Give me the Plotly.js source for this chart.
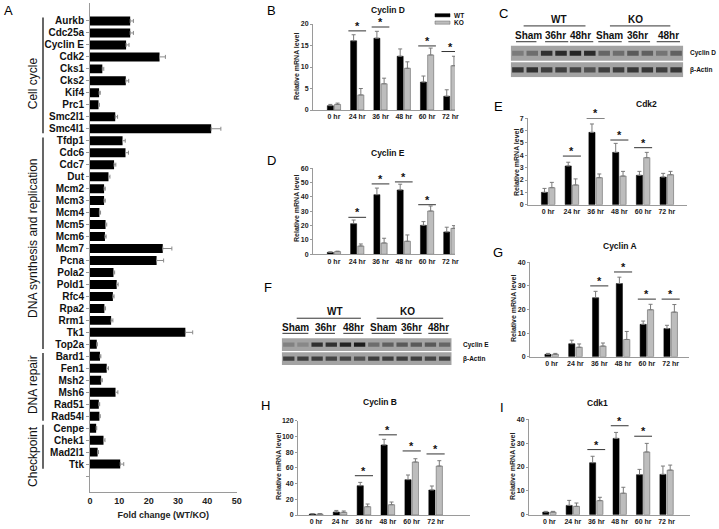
<!DOCTYPE html>
<html><head><meta charset="utf-8">
<script src="https://cdn.plot.ly/plotly-3.0.1.min.js"></script>
<style>html,body{margin:0;padding:0;background:#fff}#g{width:719px;height:529px}</style>
</head><body><div id="g"></div>
<script>
// ---------- Panel A data ----------
const genes = ['Aurkb','Cdc25a','Cyclin E','Cdk2','Cks1','Cks2','Kif4','Prc1','Smc2l1','Smc4l1',
  'Tfdp1','Cdc6','Cdc7','Dut','Mcm2','Mcm3','Mcm4','Mcm5','Mcm6','Mcm7','Pcna','Pola2','Pold1','Rfc4','Rpa2','Rrm1','Tk1','Top2a',
  'Bard1','Fen1','Msh2','Msh6','Rad51','Rad54l','Cenpe','Chek1','Mad2l1','Ttk'];
const foldChange = [13.7,13.7,12.3,23.7,4.2,12.2,3.1,2.9,8.6,41.3,
  11.1,12.1,8.2,6.3,4.8,4.8,3.2,5.3,5.1,24.8,22.7,8.0,9.1,7.8,4.9,7.2,32.5,2.3,
  3.4,5.7,3.8,8.7,3.0,3.2,2.1,4.6,2.6,10.3];
const foldErr = [1.1,1.1,1.0,2.0,0.5,1.0,0.4,0.3,0.8,3.3,
  0.9,1.0,0.6,0.5,0.4,0.4,0.4,0.4,0.4,3.1,2.4,0.4,0.5,0.4,0.4,0.6,2.5,0.2,
  0.3,0.6,0.4,0.8,0.3,0.3,0.2,0.5,0.3,1.2];
const groupNames = ['Cell cycle','DNA synthesis and replication','DNA repair','Checkpoint'];
const groupFirst = [0,10,28,34];
const groupLast = [9,27,33,37];

// ---------- qPCR panels ----------
const timeLabels = ['0 hr','24 hr','36 hr','48 hr','60 hr','72 hr'];

const cyclinD_WT = [1.0,16.1,16.7,12.5,6.5,3.2];
const cyclinD_WT_err = [0.3,1.4,1.6,1.7,1.4,1.5];
const cyclinD_KO = [1.3,3.5,6.1,9.7,12.8,10.3];
const cyclinD_KO_err = [0.3,1.5,1.3,1.5,1.6,2.2];
const cyclinD_sigIdx = [1,2,4,5];
const cyclinD_sigY = [18.4,19.3,14.9,13.6];

const cyclinE_WT = [1.4,21.4,41.6,44.9,20.2,15.6];
const cyclinE_WT_err = [0.3,2.5,4.6,4.0,2.6,3.3];
const cyclinE_KO = [1.9,5.8,7.9,9.1,30.2,18.1];
const cyclinE_KO_err = [0.3,1.4,3.3,4.4,3.5,1.9];
const cyclinE_sigIdx = [1,2,3,4];
const cyclinE_sigY = [25.8,49.1,50.5,34.6];

const cdk2_WT = [1.0,3.14,5.86,4.24,2.38,2.24];
const cdk2_WT_err = [0.32,0.3,0.68,0.73,0.32,0.3];
const cdk2_KO = [1.38,1.6,2.19,2.32,3.81,2.43];
const cdk2_KO_err = [0.43,0.49,0.3,0.38,0.43,0.27];
const cdk2_sigIdx = [1,2,3,4];
const cdk2_sigY = [3.94,7.0,5.24,4.62];

const cyclinA_WT = [1.0,5.5,25.0,31.0,13.7,11.9];
const cyclinA_WT_err = [0.4,1.5,2.7,2.7,1.4,1.4];
const cyclinA_KO = [1.0,4.0,4.5,7.3,19.9,18.9];
const cyclinA_KO_err = [0.4,1.4,1.3,3.4,2.3,3.2];
const cyclinA_sigIdx = [2,3,4,5];
const cyclinA_sigY = [30.0,35.9,24.4,24.4];

const cyclinB_WT = [1.3,3.8,37.3,89.1,45.0,31.8];
const cyclinB_WT_err = [0.4,2.0,4.2,7.2,5.9,5.1];
const cyclinB_KO = [1.3,3.4,10.6,13.1,67.4,62.3];
const cyclinB_KO_err = [0.4,1.7,3.4,3.4,4.2,6.8];
const cyclinB_sigIdx = [2,3,4,5];
const cyclinB_sigY = [50,102,81.5,77.7];

const cdk1_WT = [1.1,3.9,21.8,32.0,16.8,16.9];
const cdk1_WT_err = [0.3,2.1,2.7,2.5,2.2,3.5];
const cdk1_KO = [1.1,3.5,5.9,9.0,26.3,18.7];
const cdk1_KO_err = [0.3,1.4,1.4,2.5,3.6,2.1];
const cdk1_sigIdx = [2,3,4];
const cdk1_sigY = [27.3,37.3,32.9];

// ---------- Western blots ----------
const blotGroups = ['WT','KO'];
const blotLanes = ['Sham','36hr','48hr','Sham','36hr','48hr'];
const blotC_cyclinD = [0.3,0.4,0.85,0.9,0.95,0.9,0.45,0.4,0.55,0.5,0.35,0.5];
const blotC_actin = [0.8,0.85,0.75,0.75,0.7,0.6,0.75,0.75,0.8,0.8,0.75,0.8];
const blotF_cyclinE = [0.25,0.2,0.85,0.85,0.95,1.0,0.4,0.5,0.55,0.55,0.55,0.45];
const blotF_actin = [0.75,0.75,0.75,0.7,0.7,0.6,0.75,0.75,0.75,0.75,0.7,0.7];

// ---------- layout helpers ----------
const W = 719, H = 529;
const FONT = 'Liberation Sans, Arial, sans-serif';
const px = x => x / W;
const py = y => 1 - y / H;
const traces = [];
const shapes = [];
const annotations = [];
const layout = {
  width: W, height: H, margin: {l:0, r:0, t:0, b:0},
  paper_bgcolor: '#ffffff', plot_bgcolor: 'rgba(0,0,0,0)',
  showlegend: false, barmode: 'overlay',
  font: {family: FONT, color: '#000', size: 8}
};

// ----- Panel A -----
const aIdx = genes.map((g, i) => i);
traces.push({
  type: 'bar', orientation: 'h', x: foldChange, y: aIdx, width: 0.75,
  marker: {color: '#000'}, xaxis: 'x', yaxis: 'y',
  error_x: {type: 'data', array: foldErr, symmetric: false, arrayminus: foldErr.map(() => 0),
    color: '#8a8a8a', thickness: 1, width: 2}
});
layout.xaxis = {domain: [px(90), px(236.7)], range: [0, 50], dtick: 10, anchor: 'y',
  showline: true, linecolor: '#9a9a9a', linewidth: 1, showgrid: false, zeroline: false,
  ticks: '', tickfont: {size: 9, weight: 'bold', color: '#222'},
  title: {text: 'Fold change (WT/KO)', font: {size: 9, weight: 'bold', color: '#222'}, standoff: 6}};
layout.yaxis = {domain: [py(492), py(3)], range: [39.33, -1.5], anchor: 'x',
  tickvals: aIdx.concat([genes.length]), ticktext: genes.concat(['']),
  showline: true, linecolor: '#9a9a9a', linewidth: 1, showgrid: false, zeroline: false,
  ticks: 'outside', ticklen: 3, tickcolor: '#9a9a9a',
  tickfont: {size: 10, weight: 'bold', color: '#111'}};
const groupCenterOffset = [5.2, 18.2, 30.4, 36.4];
groupNames.forEach((name, i) => {
  shapes.push({type: 'line', xref: 'paper', yref: 'y', x0: px(43), x1: px(43),
    y0: groupFirst[i] - 0.28, y1: groupLast[i] + 0.38, line: {color: '#000', width: 1.2}});
  annotations.push({xref: 'paper', yref: 'y', x: px(33), y: groupCenterOffset[i], text: name,
    textangle: -90, showarrow: false, font: {size: 12, color: '#111'}, xanchor: 'center', yanchor: 'middle'});
});

// ----- qPCR panels -----
const panels = [
  {n: 2, letter: 'B', title: 'Cyclin D', wt: cyclinD_WT, wte: cyclinD_WT_err, ko: cyclinD_KO, koe: cyclinD_KO_err,
   sigIdx: cyclinD_sigIdx, sigY: cyclinD_sigY, xpx: [313, 455], xr: [-0.9, 5.2], ypx: [110, 24], yr: [0, 20], dt: 5,
   titlePos: [388, 10], letterPos: [271, 11], ytPos: [296, 67]},
  {n: 3, letter: 'D', title: 'Cyclin E', wt: cyclinE_WT, wte: cyclinE_WT_err, ko: cyclinE_KO, koe: cyclinE_KO_err,
   sigIdx: cyclinE_sigIdx, sigY: cyclinE_sigY, xpx: [313, 455], xr: [-0.9, 5.2], ypx: [254.3, 168.3], yr: [0, 60], dt: 10,
   titlePos: [388, 153], letterPos: [271, 160], ytPos: [296, 209]},
  {n: 4, letter: 'E', title: 'Cdk2', wt: cdk2_WT, wte: cdk2_WT_err, ko: cdk2_KO, koe: cdk2_KO_err,
   sigIdx: cdk2_sigIdx, sigY: cdk2_sigY, xpx: [528, 687], xr: [-0.85, 5.85], ypx: [204.7, 118.3], yr: [0, 7], dt: 1,
   titlePos: [646, 104], letterPos: [498, 107], ytPos: [516, 163]},
  {n: 5, letter: 'G', title: 'Cyclin A', wt: cyclinA_WT, wte: cyclinA_WT_err, ko: cyclinA_KO, koe: cyclinA_KO_err,
   sigIdx: cyclinA_sigIdx, sigY: cyclinA_sigY, xpx: [530, 689], xr: [-0.91, 5.77], ypx: [356.7, 262.3], yr: [0, 40], dt: 10,
   titlePos: [620, 246], letterPos: [498, 252], ytPos: [513, 309]},
  {n: 6, letter: 'H', title: 'Cyclin B', wt: cyclinB_WT, wte: cyclinB_WT_err, ko: cyclinB_KO, koe: cyclinB_KO_err,
   sigIdx: cyclinB_sigIdx, sigY: cyclinB_sigY, xpx: [298, 470], xr: [-0.76, 6.44], ypx: [515, 420.7], yr: [0, 120], dt: 20,
   titlePos: [380, 402], letterPos: [265, 405], ytPos: [278, 467]},
  {n: 7, letter: 'I', title: 'Cdk1', wt: cdk1_WT, wte: cdk1_WT_err, ko: cdk1_KO, koe: cdk1_KO_err,
   sigIdx: cdk1_sigIdx, sigY: cdk1_sigY, xpx: [529, 690], xr: [-0.87, 6.0], ypx: [514.7, 419.3], yr: [0, 40], dt: 10,
   titlePos: [597, 403], letterPos: [502, 407], ytPos: [512, 467]}
];
const tIdx = timeLabels.map((t, i) => i);
const errStyle = {color: '#7a7a7a', thickness: 1, width: 2};
panels.forEach(p => {
  const xa = 'x' + p.n, ya = 'y' + p.n;
  traces.push({type: 'bar', name: 'WT', x: tIdx, y: p.wt, offset: -0.285, width: 0.26,
    marker: {color: '#000', line: {color: '#000', width: 0.5}}, xaxis: xa, yaxis: ya,
    error_y: Object.assign({type: 'data', array: p.wte, symmetric: false, arrayminus: p.wte.map(() => 0)}, errStyle)});
  traces.push({type: 'bar', name: 'KO', x: tIdx, y: p.ko, offset: 0.025, width: 0.26,
    marker: {color: '#bdbdbd', line: {color: '#666', width: 0.6}}, xaxis: xa, yaxis: ya,
    error_y: Object.assign({type: 'data', array: p.koe, symmetric: false, arrayminus: p.koe.map(() => 0)}, errStyle)});
  layout['xaxis' + p.n] = {domain: [px(p.xpx[0]), px(p.xpx[1])], range: p.xr, anchor: ya,
    tickvals: tIdx, ticktext: timeLabels, ticks: '', showline: true, linecolor: '#9a9a9a', linewidth: 1,
    showgrid: false, zeroline: false, tickfont: {size: 7, weight: 'bold', color: '#222'}};
  layout['yaxis' + p.n] = {domain: [py(p.ypx[0]), py(p.ypx[1])], range: p.yr, dtick: p.dt, anchor: xa,
    ticks: 'outside', ticklen: 2, tickcolor: '#9a9a9a', showline: true, linecolor: '#9a9a9a', linewidth: 1,
    showgrid: false, zeroline: false, tickfont: {size: 7, weight: 'bold', color: '#222'}};
  p.sigIdx.forEach((c, k) => {
    shapes.push({type: 'line', xref: xa, yref: ya, x0: c - 0.38, x1: c + 0.38, y0: p.sigY[k], y1: p.sigY[k],
      line: {color: '#333', width: 1}});
    annotations.push({xref: xa, yref: ya, x: c, y: p.sigY[k], text: '*', showarrow: false,
      xanchor: 'center', yanchor: 'bottom', yshift: -3, font: {size: 11, weight: 'bold', color: '#111'}});
  });
  annotations.push({xref: 'paper', yref: 'paper', x: px(p.titlePos[0]), y: py(p.titlePos[1]), text: p.title,
    showarrow: false, xanchor: 'center', yanchor: 'middle', font: {size: 8.5, weight: 'bold', color: '#111'}});
  annotations.push({xref: 'paper', yref: 'paper', x: px(p.letterPos[0]), y: py(p.letterPos[1]), text: p.letter,
    showarrow: false, xanchor: 'center', yanchor: 'middle', font: {size: 13, color: '#000'}});
  annotations.push({xref: 'paper', yref: 'paper', x: px(p.ytPos[0]), y: py(p.ytPos[1]), text: 'Relative mRNA level',
    textangle: -90, showarrow: false, xanchor: 'center', yanchor: 'middle', font: {size: 7, weight: 'bold', color: '#222'}});
});
// legend for B
[['WT', '#000', '#000', 15.3], ['KO', '#bdbdbd', '#666', 22.6]].forEach(l => {
  shapes.push({type: 'rect', xref: 'paper', yref: 'paper', x0: px(435), x1: px(450), y0: py(l[3] + 1.6), y1: py(l[3] - 1.6),
    fillcolor: l[1], line: {color: l[2], width: 0.5}});
  annotations.push({xref: 'paper', yref: 'paper', x: px(452), y: py(l[3]), text: l[0], showarrow: false,
    xanchor: 'left', yanchor: 'middle', font: {size: 6.5, weight: 'bold', color: '#111'}});
});

// ----- Western blots -----
const blots = [
  {n: 8, letter: 'C', letterPos: [503, 13], rows: [blotC_cyclinD, blotC_actin], rowNames: ['Cyclin D', '\u03b2-Actin'],
   xpx: [510.7, 683.3], ypx: [77.3, 12], yr: [0, 4.13], labelX: 688,
   grp: {text: [2.85, 8.15], line: [[0.4, 4.7], [6.4, 10.6]], ty: 3.63, ly: 3.25},
   lane: {text: [0.72, 2.58, 4.37, 6.36, 8.3, 10.46], line: [[-0.13, 1.29], [1.89, 3.5], [3.62, 5.24], [5.59, 7.22], [7.68, 9.19], [9.65, 11.27]], ty: 2.62, ly: 2.25}},
  {n: 9, letter: 'F', letterPos: [268, 287], rows: [blotF_cyclinE, blotF_actin], rowNames: ['Cyclin E', '\u03b2-Actin'],
   xpx: [281.7, 451.7], ypx: [365, 305], yr: [0, 4.49], labelX: 461,
   grp: {text: [3.26, 8.39], line: [[0.56, 5.09], [6.2, 10.9]], ty: 3.99, ly: 3.5},
   lane: {text: [0.44, 2.56, 4.55, 6.67, 8.67, 10.55], line: [[-0.45, 1.38], [1.85, 3.26], [3.85, 5.26], [5.85, 7.5], [8.08, 9.38], [9.85, 11.26]], ty: 2.82, ly: 2.37}}
];
const laneIdx = blotC_cyclinD.map((v, i) => i);
const rowCenters = [1.52, 0.47];
const rowSpans = [[1.05, 2.0], [0.0, 0.95]];
blots.forEach(b => {
  const xa = 'x' + b.n, ya = 'y' + b.n;
  layout['xaxis' + b.n] = {domain: [px(b.xpx[0]), px(b.xpx[1])], range: [-0.5, 11.5], anchor: ya, visible: false};
  layout['yaxis' + b.n] = {domain: [py(b.ypx[0]), py(b.ypx[1])], range: b.yr, anchor: xa, visible: false};
  rowSpans.forEach(s => shapes.push({type: 'rect', xref: xa, yref: ya, x0: -0.5, x1: 11.5, y0: s[0], y1: s[1],
    fillcolor: '#a3a3a3', line: {width: 0}, layer: 'below'}));
  b.rows.forEach((row, r) => {
    traces.push({type: 'bar', x: laneIdx, y: row.map(() => 0.32), base: row.map(() => rowCenters[r] - 0.16),
      width: 0.8, xaxis: xa, yaxis: ya, hoverinfo: 'skip',
      marker: {color: row, cmin: 0, cmax: 1, colorscale: [[0, '#a3a3a3'], [1, '#1c1c1c']], line: {width: 0}}});
    annotations.push({xref: 'paper', yref: ya, x: px(b.labelX), y: rowCenters[r], text: b.rowNames[r], showarrow: false,
      xanchor: 'left', yanchor: 'middle', font: {size: 6.5, weight: 'bold', color: '#111'}});
  });
  blotGroups.forEach((g, i) => {
    annotations.push({xref: xa, yref: ya, x: b.grp.text[i], y: b.grp.ty, text: g, showarrow: false,
      xanchor: 'center', yanchor: 'middle', font: {size: 10, weight: 'bold', color: '#111'}});
    shapes.push({type: 'line', xref: xa, yref: ya, x0: b.grp.line[i][0], x1: b.grp.line[i][1], y0: b.grp.ly, y1: b.grp.ly,
      line: {color: '#333', width: 1}});
  });
  blotLanes.forEach((l, i) => {
    annotations.push({xref: xa, yref: ya, x: b.lane.text[i], y: b.lane.ty, text: l, showarrow: false,
      xanchor: 'center', yanchor: 'middle', font: {size: 10, weight: 'bold', color: '#111'}});
    shapes.push({type: 'line', xref: xa, yref: ya, x0: b.lane.line[i][0], x1: b.lane.line[i][1], y0: b.lane.ly, y1: b.lane.ly,
      line: {color: '#333', width: 1}});
  });
  annotations.push({xref: 'paper', yref: 'paper', x: px(b.letterPos[0]), y: py(b.letterPos[1]), text: b.letter,
    showarrow: false, xanchor: 'center', yanchor: 'middle', font: {size: 13, color: '#000'}});
});
annotations.push({xref: 'paper', yref: 'paper', x: px(8), y: py(11), text: 'A', showarrow: false,
  xanchor: 'center', yanchor: 'middle', font: {size: 13, color: '#000'}});

layout.shapes = shapes;
layout.annotations = annotations;
Plotly.newPlot('g', traces, layout, {staticPlot: true, displayModeBar: false});
</script></body></html>
